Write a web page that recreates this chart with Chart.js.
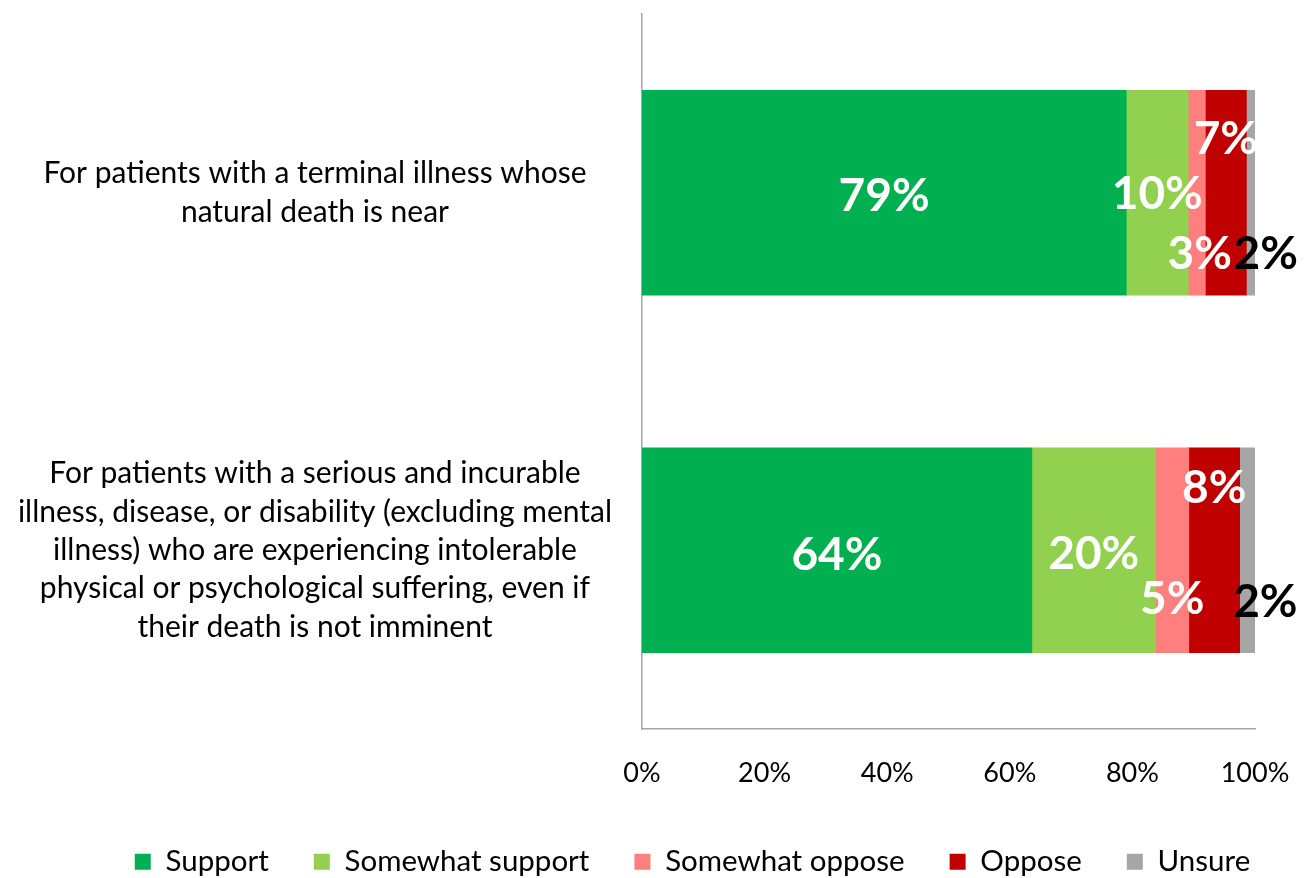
<!DOCTYPE html>
<html>
<head>
<meta charset="utf-8">
<script src="https://cdn.jsdelivr.net/npm/chart.js@4/dist/chart.umd.min.js"></script>
<style>
  html, body { margin: 0; padding: 0; background: #ffffff; }
  #wrap { width: 1304px; height: 878px; position: relative; }
</style>
</head>
<body>
<div id="wrap"><canvas id="chart" width="1304" height="878"></canvas></div>
<script>
// ---- Data ----
const categories = [
  ["For patients with a terminal illness whose", "natural death is near"],
  ["For patients with a serious and incurable",
   "illness, disease, or disability (excluding mental",
   "illness) who are experiencing intolerable",
   "physical or psychological suffering, even if",
   "their death is not imminent"]
];
const seriesNames = ["Support", "Somewhat support", "Somewhat oppose", "Oppose", "Unsure"];
const support         = [79.0, 63.6];
const somewhatSupport = [10.1, 20.2];
const somewhatOppose  = [2.8, 5.4];
const oppose          = [6.7, 8.3];
const unsure          = [1.4, 2.5];
const supportLabels         = ["79%", "64%"];
const somewhatSupportLabels = ["10%", "20%"];
const somewhatOpposeLabels  = ["3%", "5%"];
const opposeLabels          = ["7%", "8%"];
const unsureLabels          = ["2%", "2%"];
const xTickValues = [0, 20, 40, 60, 80, 100];

// ---- Styles ----
const seriesColors = ["#00B050", "#92D050", "#FF7F7F", "#C00000", "#A6A6A6"];
const labelColors  = ["#FFFFFF", "#FFFFFF", "#FFFFFF", "#FFFFFF", "#000000"];
// label offsets from segment centre, [dx, dy] per category
const labelOffsets = [
  [[0, 2], [0, 3]],
  [[0, 0], [0, 2]],
  [[3, 60], [0, 47]],
  [[0, -55], [0, -64]],
  [[15, 60], [18, 50]]
];
const FONT = "Lato, 'Open Sans', sans-serif";
const PAD_LEFT = 20;
const PLOT_LEFT = 642;
const LEGEND_SHIFT = 55;

const seriesValues = [support, somewhatSupport, somewhatOppose, oppose, unsure];
const seriesLabels = [supportLabels, somewhatSupportLabels, somewhatOpposeLabels, opposeLabels, unsureLabels];

const datasets = seriesNames.map((name, i) => ({
  label: name,
  data: seriesValues[i],
  backgroundColor: seriesColors[i],
  borderWidth: 0,
  barThickness: 205
}));

const segmentLabelsPlugin = {
  id: 'segmentLabels',
  afterLayout(chart) {
    const lg = chart.legend;
    if (lg) { lg.left += LEGEND_SHIFT; lg.right += LEGEND_SHIFT; }
  },
  afterDatasetsDraw(chart) {
    const ctx = chart.ctx;
    ctx.save();
    const size = 46;
    ctx.font = "bold " + size + "px " + FONT;
    ctx.textAlign = 'center';
    ctx.textBaseline = 'alphabetic';
    chart.data.datasets.forEach((ds, di) => {
      const meta = chart.getDatasetMeta(di);
      meta.data.forEach((el, i) => {
        const txt = seriesLabels[di][i];
        const off = labelOffsets[di][i];
        const cx = (el.x + el.base) / 2 + off[0];
        const cy = el.y + off[1];
        ctx.fillStyle = labelColors[di];
        ctx.fillText(txt, cx, cy + size * 0.358);
      });
    });
    ctx.restore();
  }
};

Chart.defaults.font.family = FONT;
Chart.defaults.color = '#000000';

new Chart(document.getElementById('chart'), {
  type: 'bar',
  data: { labels: categories, datasets: datasets },
  plugins: [segmentLabelsPlugin],
  options: {
    indexAxis: 'y',
    responsive: false,
    animation: false,
    layout: { padding: { left: PAD_LEFT, right: 49, top: 14, bottom: 0 } },
    scales: {
      x: {
        stacked: true,
        min: 0,
        max: 100,
        afterBuildTicks(scale) { scale.ticks = xTickValues.map(v => ({ value: v })); },
        afterFit(scale) { scale.height = 73; scale.paddingLeft = 0; scale.paddingRight = 0; },
        grid: { display: false },
        border: { display: true, color: '#A6A6A6', width: 1.5 },
        ticks: {
          padding: 20,
          color: '#000000',
          font: { size: 27, family: FONT },
          callback: (v) => v + '%'
        }
      },
      y: {
        stacked: true,
        afterFit(scale) { scale.width = PLOT_LEFT - PAD_LEFT; scale.paddingTop = 0; scale.paddingBottom = 0; },
        grid: { display: false },
        border: { display: true, color: '#A6A6A6', width: 1.5 },
        ticks: {
          crossAlign: 'center',
          padding: 22,
          color: '#000000',
          font: { size: 30, family: FONT, lineHeight: 1.28 }
        }
      }
    },
    plugins: {
      tooltip: { enabled: false },
      legend: {
        position: 'bottom',
        maxHeight: 76,
        labels: {
          boxWidth: 16,
          boxHeight: 16,
          padding: 45,
          color: '#000000',
          font: { size: 29.5, family: FONT }
        }
      }
    }
  }
});
</script>
</body>
</html>
